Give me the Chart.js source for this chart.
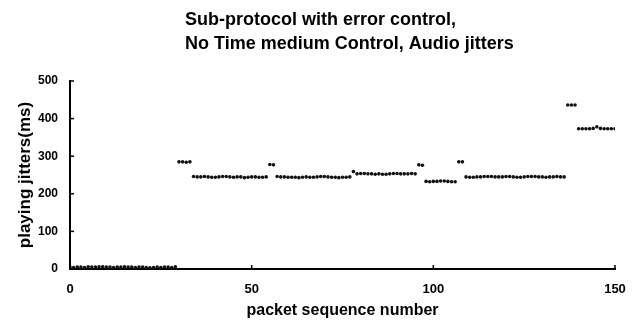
<!DOCTYPE html>
<html>
<head>
<meta charset="utf-8">
<script src="https://cdn.jsdelivr.net/npm/chart.js@4/dist/chart.umd.min.js"></script>
<style>
  html, body { margin: 0; padding: 0; background: #fff; }
  #wrap { width: 632px; height: 324px; position: relative; }
</style>
</head>
<body>
<div id="wrap"><canvas id="c" width="632" height="324"></canvas></div>
<script>
const titleLines = ["Sub-protocol with error control,", "No Time medium Control, Audio jitters"];
const xAxisTitle = "packet sequence number";
const yAxisTitle = "playing jitters(ms)";
const xTicks = [0, 50, 100, 150];
const yTicks = [0, 100, 200, 300, 400, 500];

const packetNumbers = [
  0,1,2,3,4,5,6,7,8,9,10,11,12,13,14,15,16,17,18,19,
  20,21,22,23,24,25,26,27,28,29,30,31,32,33,34,35,36,37,38,39,
  40,41,42,43,44,45,46,47,48,49,50,51,52,53,54,55,56,57,58,59,
  60,61,62,63,64,65,66,67,68,69,70,71,72,73,74,75,76,77,78,79,
  80,81,82,83,84,85,86,87,88,89,90,91,92,93,94,95,96,97,98,99,
  100,101,102,103,104,105,106,107,108,109,110,111,112,113,114,115,116,117,118,119,
  120,121,122,123,124,125,126,127,128,129,130,131,132,133,134,135,136,137,138,139,
  140,141,142,143,144,145,146,147,148,149,150
];

const playingJitters = [
  // 0-29
  5,4,5,5,4,6,5,5,6,6,5,5,4,5,5,6,5,5,4,5,5,4,3,4,5,4,5,5,4,6,
  // 30-33
  285,285,284,285,
  // 34-54
  246,245,245,246,245,244,244,245,246,246,245,244,245,245,243,244,245,245,244,244,245,
  // 55-56
  278,277,
  // 57-77
  246,245,245,244,244,244,243,244,245,244,244,245,246,246,245,244,244,243,244,244,245,
  // 78
  259,
  // 79-95
  253,254,254,253,253,252,253,252,252,253,254,254,253,253,253,254,253,
  // 96-97
  277,276,
  // 98-106
  233,232,233,233,234,234,233,232,232,
  // 107-108
  285,285,
  // 109-136
  245,244,244,245,245,246,246,246,245,245,245,246,246,245,244,244,245,246,246,246,245,245,244,245,245,246,245,245,
  // 137-139
  436,436,436,
  // 140-150
  373,373,373,373,374,378,374,373,373,373,373
];

const points = packetNumbers.map((p, i) => ({ x: p, y: playingJitters[i] }));

const titlePlugin = {
  id: 'blockTitle',
  afterDraw(chart) {
    const ctx = chart.ctx;
    ctx.save();
    ctx.fillStyle = '#000';
    ctx.font = 'bold 18px "Liberation Sans", Arial, sans-serif';
    ctx.textAlign = 'left';
    ctx.textBaseline = 'middle';
    ctx.fillText(titleLines[0], 185, 20);
    ctx.fillText(titleLines[1], 185, 44);
    ctx.restore();
  }
};

const innerTicksPlugin = {
  id: 'innerTicks',
  afterDraw(chart) {
    const ctx = chart.ctx;
    const xs = chart.scales.x, ys = chart.scales.y;
    ctx.save();
    ctx.strokeStyle = '#000';
    ctx.lineWidth = 1.5;
    xTicks.forEach(v => {
      const px = xs.getPixelForValue(v);
      ctx.beginPath();
      ctx.moveTo(px, ys.bottom);
      ctx.lineTo(px, ys.bottom - 4);
      ctx.stroke();
    });
    yTicks.forEach(v => {
      const py = ys.getPixelForValue(v);
      ctx.beginPath();
      ctx.moveTo(xs.left, py);
      ctx.lineTo(xs.left + 4, py);
      ctx.stroke();
    });
    ctx.restore();
  }
};

new Chart(document.getElementById('c'), {
  type: 'scatter',
  data: {
    datasets: [{
      data: points,
      pointRadius: 1.8,
      pointHoverRadius: 1.8,
      pointBackgroundColor: '#111',
      pointBorderWidth: 0,
      showLine: false
    }]
  },
  options: {
    responsive: false,
    animation: false,
    events: [],
    layout: { padding: { top: 81, right: 17, bottom: 0, left: 0 } },
    plugins: {
      legend: { display: false },
      tooltip: { enabled: false },
      title: { display: false }
    },
    scales: {
      x: {
        type: 'linear',
        min: 0, max: 150,
        afterFit(s) { s.height = 55; s.paddingLeft = 0; s.paddingRight = 0; },
        afterBuildTicks(s) { s.ticks = xTicks.map(v => ({ value: v })); },
        grid: { display: false, drawTicks: false },
        border: { display: true, color: '#000', width: 2 },
        ticks: {
          color: '#000',
          padding: 13,
          maxRotation: 0,
          font: { family: '"Liberation Sans", Arial, sans-serif', size: 13, weight: 'bold' }
        },
        title: {
          display: true,
          text: xAxisTitle,
          color: '#000',
          padding: { top: 0, bottom: 4 },
          font: { family: '"Liberation Sans", Arial, sans-serif', size: 16, weight: 'bold' }
        }
      },
      y: {
        type: 'linear',
        min: 0, max: 500,
        afterFit(s) { s.width = 70; s.paddingTop = 0; s.paddingBottom = 0; },
        afterBuildTicks(s) { s.ticks = yTicks.map(v => ({ value: v })); },
        grid: { display: false, drawTicks: false },
        border: { display: true, color: '#000', width: 2 },
        ticks: {
          color: '#000',
          padding: 12,
          font: { family: '"Liberation Sans", Arial, sans-serif', size: 12, weight: 'bold' }
        },
        title: {
          display: true,
          text: yAxisTitle,
          color: '#000',
          padding: { top: 15, bottom: 0 },
          font: { family: '"Liberation Sans", Arial, sans-serif', size: 17, weight: 'bold' }
        }
      }
    }
  },
  plugins: [titlePlugin, innerTicksPlugin]
});
</script>
</body>
</html>
